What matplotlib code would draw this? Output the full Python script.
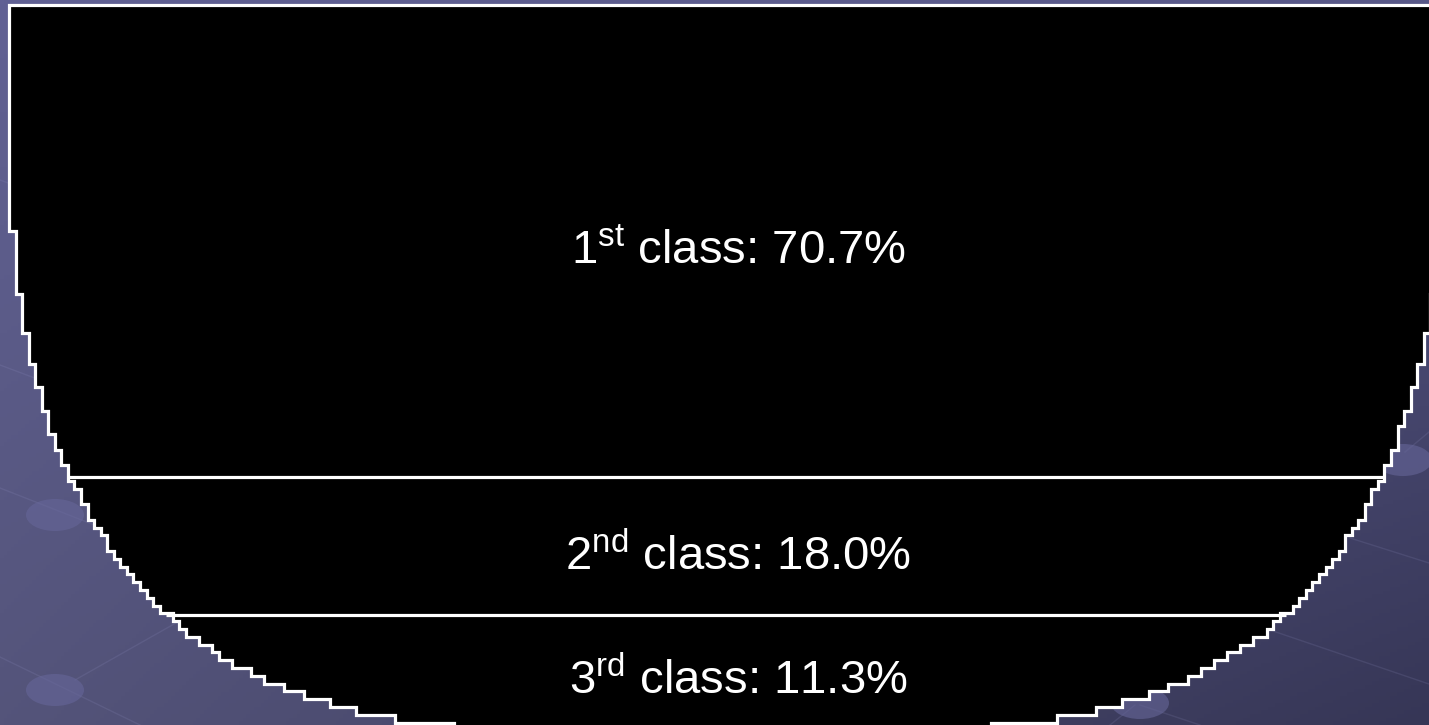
import numpy as np
import matplotlib
matplotlib.use("Agg")
import matplotlib.pyplot as plt
from matplotlib.patches import Polygon, Ellipse

# ── data ──────────────────────────────────────
classes = ["1st", "2nd", "3rd"]
suffixes = ["st", "nd", "rd"]
shares = [70.7, 18.0, 11.3]      # percent of total, top to bottom

plt.rcParams["font.family"] = ["Liberation Sans", "DejaVu Sans"]
plt.rcParams["mathtext.fontset"] = "custom"
plt.rcParams["mathtext.rm"] = "Liberation Sans"

W, H = 1429, 725
fig = plt.figure(figsize=(14.29, 7.25), dpi=100)
ax = fig.add_axes([0, 0, 1, 1])
ax.set_xlim(0, W)
ax.set_ylim(H, 0)
ax.axis("off")

# background gradient (slide theme)
yy, xx = np.mgrid[0:1:200j, 0:1:400j]
tl = np.array([97, 97, 148]) / 255
tr = np.array([88, 88, 136]) / 255
bl = np.array([84, 84, 122]) / 255
br = np.array([54, 54, 86]) / 255
img = ((1 - xx) * (1 - yy))[..., None] * tl + (xx * (1 - yy))[..., None] * tr \
    + ((1 - xx) * yy)[..., None] * bl + (xx * yy)[..., None] * br
ax.imshow(img, extent=[0, W, H, 0], aspect="auto", zorder=0)

# faint theme lines and beads
for (x0, y0, x1, y1) in [(0, 488, 260, 590), (0, 657, 140, 725), (75, 680, 190, 615),
                         (0, 180, 220, 260), (0, 365, 200, 440), (1405, 452, 1429, 432),
                         (1350, 538, 1429, 563), (1270, 630, 1429, 684), (1140, 705, 1200, 725),
                         (1135, 705, 1110, 725)]:
    ax.plot([x0, x1], [y0, y1], color=(0.6, 0.6, 0.8), alpha=0.15, lw=1, zorder=1)
for (bx, by) in [(55, 515), (55, 690), (1403, 460), (1140, 703)]:
    ax.add_patch(Ellipse((bx, by), 58, 32, fc=(0.40, 0.40, 0.60), ec="none",
                         alpha=0.6, zorder=1))

# bowl geometry
cx, A = 726, 717
y_top, y_curve, y_bottom = 5, 140, 733


def half_width(y):
    if y <= y_curve:
        return A
    t = (y - y_curve) / (y_bottom - y_curve)
    if t >= 1:
        return 0.0
    return A * (1 - t ** 2.2) ** (1 / 3.8)


# divider levels from cumulative area
ys = np.linspace(y_top, y_bottom, 4000)
ws = np.array([half_width(v) for v in ys])
cum = np.concatenate([[0], np.cumsum((ws[1:] + ws[:-1]) / 2 * np.diff(ys))])
cum /= cum[-1]
bounds = np.cumsum(shares) / 100.0
levels = [y_top] + [float(np.interp(b, cum, ys)) for b in bounds[:-1]] + [y_bottom]

# pixelated (stepped) outline
dx, dy = 6.55, 7.8
x_off = cx - A - dx


def edges(y):
    w = half_width(y)
    jl = np.ceil((cx - w - x_off) / dx - 0.5)
    jr = np.floor((cx + w - x_off) / dx - 0.5)
    return x_off + jl * dx, x_off + (jr + 1) * dx


left, right = [], []
r0 = y_top
while r0 < y_bottom:
    r1 = r0 + dy
    yc = r0 + dy / 2
    if half_width(yc) <= 0:
        break
    xl, xr = edges(yc)
    left += [(xl, r0), (xl, r1)]
    right += [(xr, r0), (xr, r1)]
    r0 = r1
verts = left + right[::-1]
ax.add_patch(Polygon(verts, closed=True, fc="black", ec="white", lw=2.3,
                     joinstyle="miter", zorder=2))

for lv in levels[1:-1]:
    xl, xr = edges(lv)
    ax.plot([xl, xr], [lv, lv], color="white", lw=2.3, zorder=3,
            solid_capstyle="butt")

# labels
for i, (c, s, p) in enumerate(zip(classes, suffixes, shares)):
    top, bot = levels[i], min(levels[i + 1], H)
    label = c[:-2] + r"$^{\mathrm{" + s + "}}$" + f" class: {p:.1f}%"
    ax.text(cx + 12, (top + bot) / 2 + 11, label, color="white", fontsize=34,
            ha="center", va="center", zorder=4)

fig.savefig("out.png", dpi=100)
